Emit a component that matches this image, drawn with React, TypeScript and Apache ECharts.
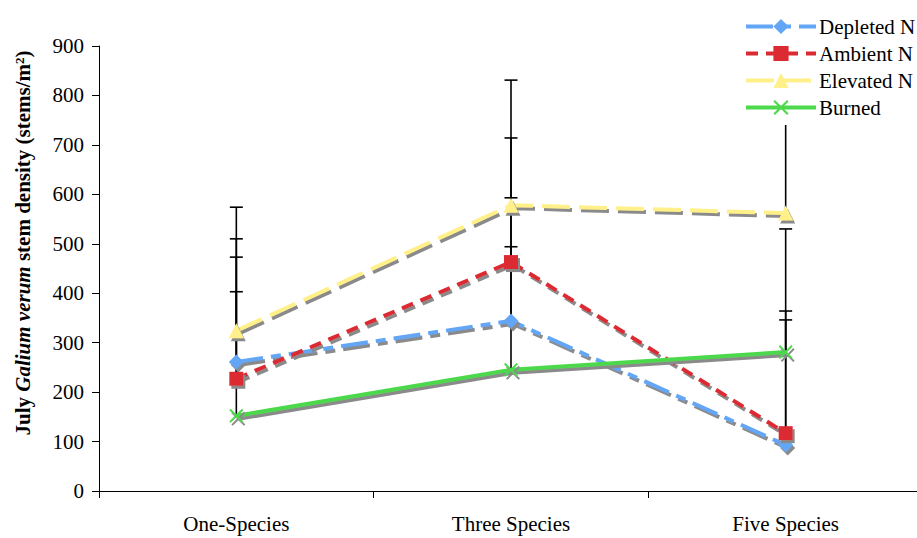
import React, { useEffect, useRef } from "react";
import * as echarts from "echarts";

// Diversity treatments along the x axis
const categories = ["One-Species", "Three Species", "Five Species"];

// Mean July stem density (stems/m²) per nitrogen / burn treatment
const depletedN = [261, 344, 93];
const ambientN = [227, 463, 117];
const elevatedN = [324, 578, 562];
const burned = [152, 245, 281];

// Upper end of each error bar (mean + SE)
const depletedTop = [510, 593, 346];
const ambientTop = [473, 714, 364];
const elevatedTop = [574, 831, 810];
const burnedTop = [403, 494, 530];

const yTicks = [0, 100, 200, 300, 400, 500, 600, 700, 800, 900];

const FONT = "Liberation Serif";
const SHADOW = "#8a8a8a";

const X_SYMBOL =
  "path://M0,1 L1,0 L5,4 L9,0 L10,1 L6,5 L10,9 L9,10 L5,6 L1,10 L0,9 L4,5 Z";

function lineSeries(
  name: string,
  data: number[],
  color: string,
  dash: any,
  symbol: string,
  symbolSize: number
) {
  return {
    name,
    type: "line",
    data,
    z: 3,
    symbol,
    symbolSize,
    showAllSymbol: true,
    lineStyle: {
      color,
      width: 4,
      type: dash,
      shadowColor: SHADOW,
      shadowBlur: 0,
      shadowOffsetX: 2,
      shadowOffsetY: 3,
    },
    itemStyle: {
      color,
      borderWidth: 0,
      shadowColor: SHADOW,
      shadowBlur: 0,
      shadowOffsetX: 2,
      shadowOffsetY: 3,
    },
    emphasis: { disabled: true },
  };
}

function errorSeries(means: number[], tops: number[]) {
  return {
    type: "custom",
    z: 1,
    silent: true,
    data: means.map((m, i) => [i, m, tops[i]]),
    encode: { x: 0, y: [1, 2] },
    renderItem: (_params: any, api: any) => {
      const idx = api.value(0);
      const base = api.coord([idx, api.value(1)]);
      const top = api.coord([idx, api.value(2)]);
      const st = { stroke: "#000", lineWidth: 1.6 };
      return {
        type: "group",
        children: [
          { type: "line", shape: { x1: base[0], y1: base[1], x2: top[0], y2: top[1] }, style: st },
          { type: "line", shape: { x1: top[0] - 6.5, y1: top[1], x2: top[0] + 6.5, y2: top[1] }, style: st },
        ],
      };
    },
  };
}

export default function App() {
  const ref = useRef<HTMLDivElement>(null);

  useEffect(() => {
    if (!ref.current) return;
    const chart = echarts.init(ref.current, null, { renderer: "svg" });
    chart.setOption({
      animation: false,
      backgroundColor: "#fff",
      textStyle: { fontFamily: FONT, fontSize: 21, color: "#000" },
      grid: { left: 99, top: 46, bottom: 47, right: 1, containLabel: false },
      legend: {
        orient: "vertical",
        left: 744,
        top: 14,
        data: ["Depleted N", "Ambient N", "Elevated N", "Burned"],
        itemWidth: 70,
        itemHeight: 19,
        itemGap: 6,
        backgroundColor: "#fff",
        padding: [2, 6, 7, 0],
        textStyle: { fontFamily: FONT, fontSize: 21, color: "#000", padding: [0, 0, 0, -2] },
        itemStyle: { shadowColor: "rgba(0,0,0,0)", shadowOffsetX: 0, shadowOffsetY: 0 },
        lineStyle: { width: 4, shadowColor: "rgba(0,0,0,0)", shadowOffsetX: 0, shadowOffsetY: 0 },
        selectedMode: false,
      },
      xAxis: {
        type: "category",
        data: categories,
        boundaryGap: true,
        axisLine: { lineStyle: { color: "#000", width: 1 } },
        axisTick: { show: true, length: 7, lineStyle: { color: "#000" } },
        axisLabel: { fontFamily: FONT, fontSize: 21, color: "#000", margin: 22 },
        splitLine: { show: false },
      },
      yAxis: {
        type: "value",
        min: yTicks[0],
        max: yTicks[yTicks.length - 1],
        interval: 100,
        axisLine: { show: true, lineStyle: { color: "#000", width: 1 } },
        axisTick: { show: true, length: 7, lineStyle: { color: "#000" } },
        axisLabel: { fontFamily: FONT, fontSize: 21, color: "#000", margin: 15 },
        splitLine: { show: false },
      },
      graphic: [
        {
          type: "text",
          x: 23,
          y: 243,
          rotation: Math.PI / 2,
          style: {
            text: "{b|July }{bi|Galium verum}{b| stem density (stems/m}{sup|2}{b|)}",
            align: "center",
            verticalAlign: "middle",
            fill: "#000",
            rich: {
              b: { fontFamily: FONT, fontSize: 21, fontWeight: "bold", fill: "#000" },
              bi: { fontFamily: FONT, fontSize: 21, fontWeight: "bold", fontStyle: "italic", fill: "#000" },
              sup: { fontFamily: FONT, fontSize: 13, fontWeight: "bold", verticalAlign: "top", fill: "#000" },
            },
          },
        },
      ],
      series: [
        errorSeries(depletedN, depletedTop),
        errorSeries(ambientN, ambientTop),
        errorSeries(elevatedN, elevatedTop),
        errorSeries(burned, burnedTop),
        lineSeries("Depleted N", depletedN, "#62a6f5", [27, 8, 10, 8], "diamond", 15),
        lineSeries("Ambient N", ambientN, "#dc2a33", [12, 8], "rect", 14),
        lineSeries("Elevated N", elevatedN, "#fff08a", [28, 9], "triangle", 15),
        lineSeries("Burned", burned, "#4cd94c", "solid", X_SYMBOL, 14),
      ],
    });
    return () => chart.dispose();
  }, []);

  // Plot area runs slightly past the right edge of the page; the overflow is clipped.
  return (
    <div style={{ position: "fixed", left: 0, top: 0, width: 917, height: 538, overflow: "hidden" }}>
      <div ref={ref} style={{ width: 924, height: 538 }} />
    </div>
  );
}
